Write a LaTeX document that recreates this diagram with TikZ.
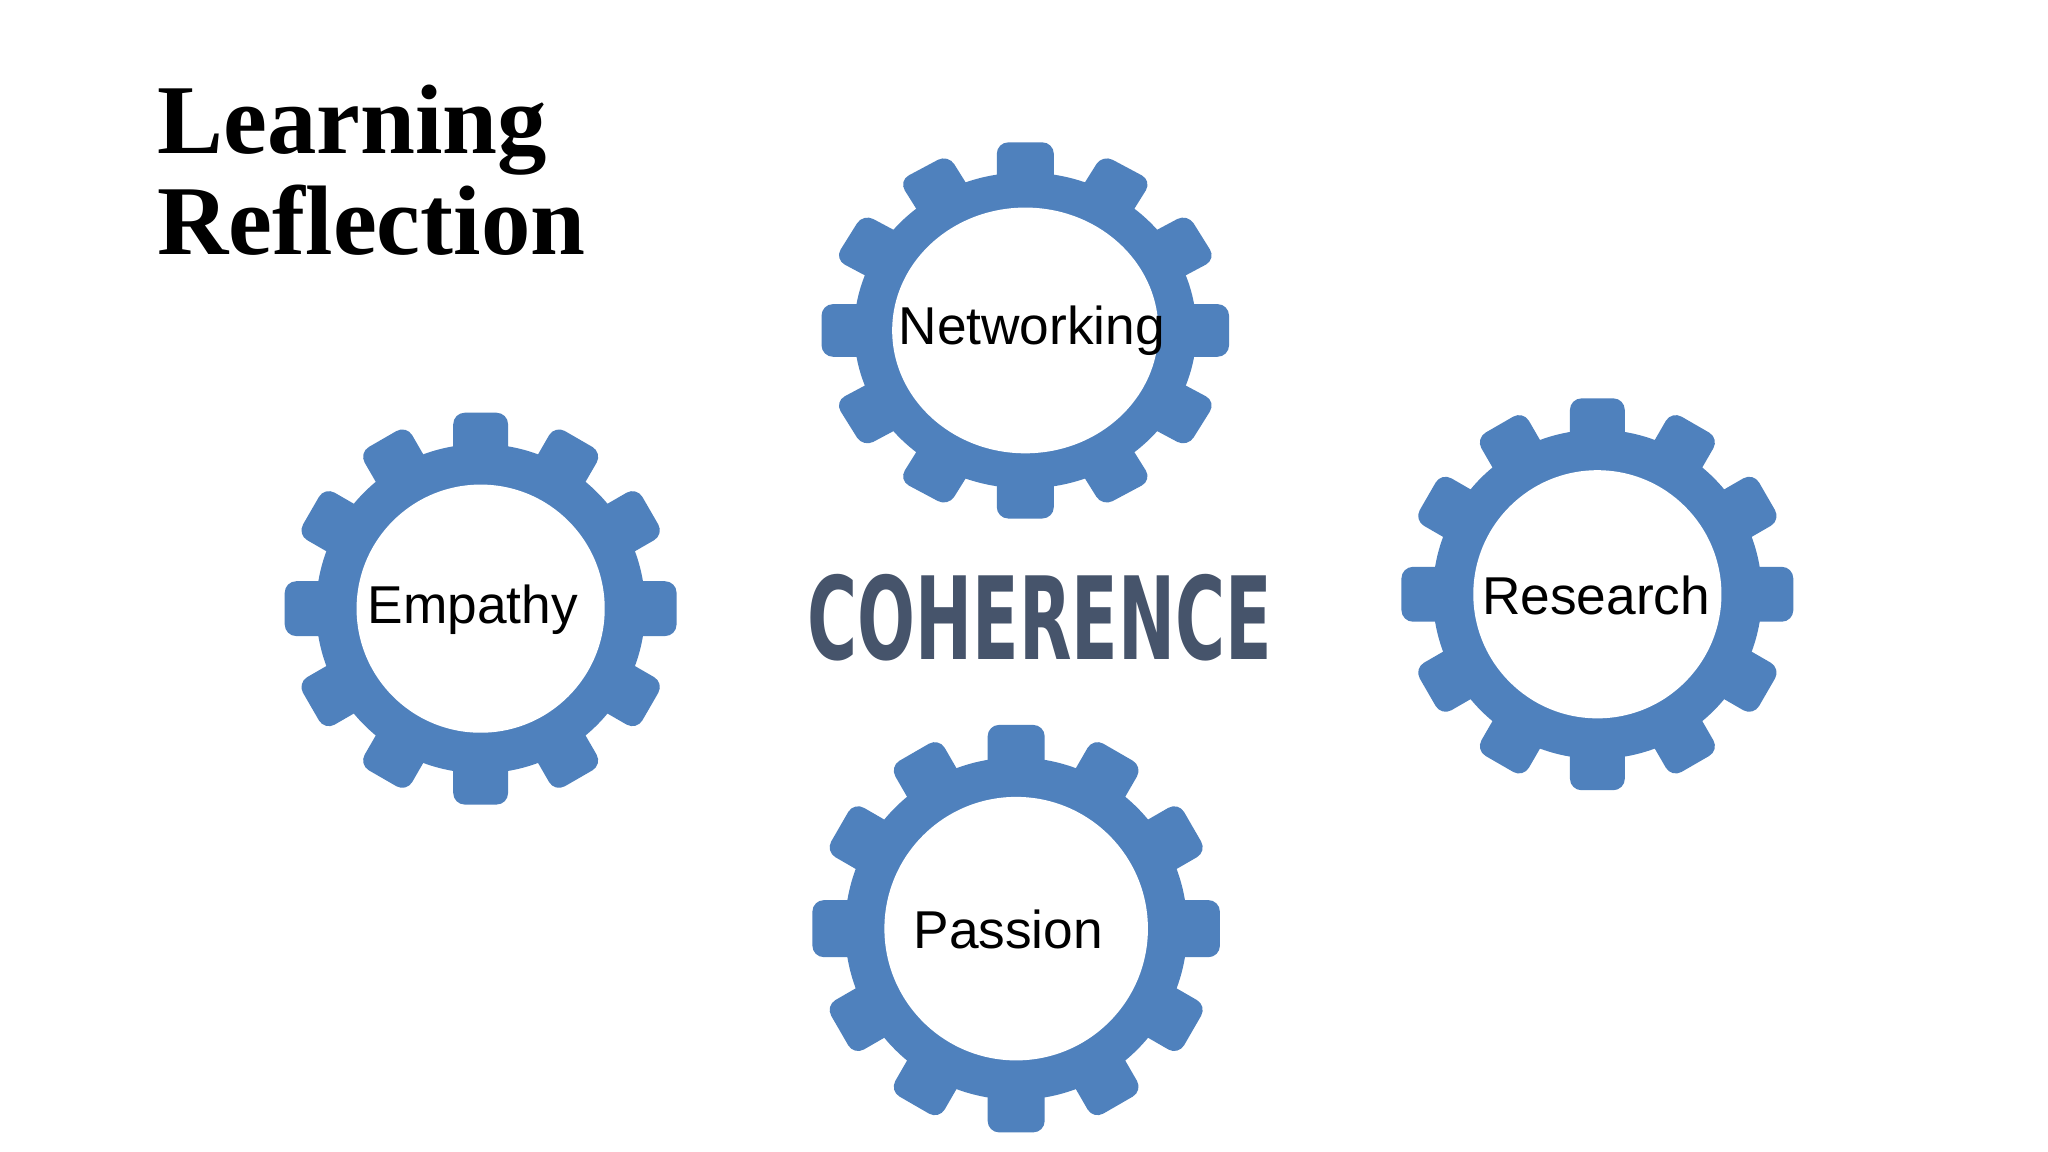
\documentclass[tikz,border=0pt]{standalone}
\usepackage{fontspec}
\setmainfont{Liberation Sans}
\newfontfamily\titlefont{Liberation Serif}
\newfontfamily\cohfont{DejaVu Sans Condensed}
\definecolor{gearblue}{HTML}{4F81BD}
\definecolor{cohcol}{HTML}{46546B}
\newcommand{\mygear}[5]{%
  \begin{scope}[shift={(#1,#2)},xscale=#3,yscale=#4]
    \fill[gearblue] (0,0) circle (126);
    \foreach \a in {0,30,...,330}{
      \fill[gearblue,rotate=\a,rounded corners=2.5] (-21,110) rectangle (21,150);
    }
    \fill[white] (0,0) circle (#5);
  \end{scope}}
\begin{document}
\begin{tikzpicture}[x=0.01cm,y=-0.01cm,
  lbl/.style={font=\fontsize{11.6}{14}\selectfont,text=black}]
\useasboundingbox (0,0) rectangle (1568,882);
\fill[white] (0,0) rectangle (1568,882);
\mygear{785}{253}{1.04}{0.96}{98}
\mygear{368}{466}{1}{1}{95}
\mygear{1223}{455}{1}{1}{95}
\mygear{778}{711}{1.04}{1.04}{97}
\node[lbl] (net) at (790,253) {Networking};
\node[lbl] (emp) at (362,467) {Empathy};
\node[lbl] (res) at (1222,456) {Research};
\node[lbl] (pas) at (772,712) {Passion};
\node[anchor=north west,align=left,inner sep=0pt,
  font=\titlefont\bfseries\fontsize{21.5}{22}\selectfont] (title) at (120,64) {Learning\\[0pt]Reflection};
\node[text=cohcol,xscale=0.66,font=\cohfont\bfseries\fontsize{25}{25}\selectfont] (coh) at (796,473) {COHERENCE};
\end{tikzpicture}
\end{document}
